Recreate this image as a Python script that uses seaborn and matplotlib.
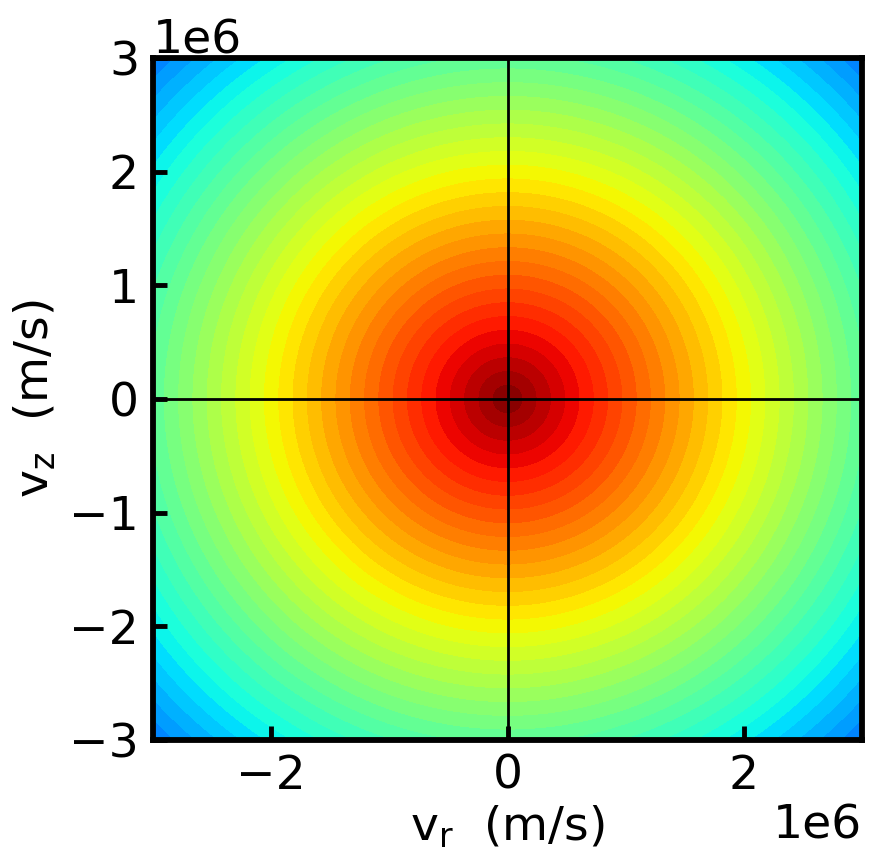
import numpy as np
import matplotlib
matplotlib.use("Agg")
import matplotlib.pyplot as plt
import seaborn as sns

# Data: velocity grid limits (m/s) and distribution parameters
v_limits = [-3e6, 3e6]
n_grid = 401
v_scale = 1.0e6          # e-folding speed of the (log) distribution
level_step = 0.121       # contour spacing in units of log f
log_f_min = -5.62        # colour-scale lower bound
x_ticks = [-2e6, 0, 2e6]
y_ticks = [-3e6, -2e6, -1e6, 0, 1e6, 2e6, 3e6]

vr = np.linspace(v_limits[0], v_limits[1], n_grid)
vz = np.linspace(v_limits[0], v_limits[1], n_grid)
VR, VZ = np.meshgrid(vr, vz)
log_f = -np.sqrt(VR**2 + VZ**2) / v_scale

sns.set_theme(style="ticks")
plt.rcParams['font.family'] = ['DejaVu Sans']
plt.rcParams['mathtext.default'] = 'regular'
plt.rcParams['text.color'] = 'black'
plt.rcParams['axes.labelcolor'] = 'black'
plt.rcParams['xtick.color'] = 'black'
plt.rcParams['ytick.color'] = 'black'

fig = plt.figure(figsize=(8.71, 8.52), dpi=100)
ax = fig.add_axes([153/871, 1-740/852, (862-153)/871, (740-58)/852])

levels = np.sort(-np.arange(0, 4.5, level_step))
levels = np.append(levels, 0.05)
ax.contourf(VR, VZ, log_f, levels=levels, cmap='jet', vmin=log_f_min, vmax=0)

ax.axhline(0, color='black', lw=2)
ax.axvline(0, color='black', lw=2)

ax.set_xlim(v_limits)
ax.set_ylim(v_limits)
ax.set_xticks(x_ticks)
ax.set_yticks(y_ticks)
ax.ticklabel_format(style='sci', axis='both', scilimits=(0, 0))
ax.set_axisbelow(False)

for s in ax.spines.values():
    s.set_linewidth(4.2)
    s.set_color('black')
ax.tick_params(direction='in', length=10, width=3.5, labelsize=34, pad=10,
               colors='black', labelcolor='black', top=False, right=False)
ax.xaxis.get_offset_text().set_fontsize(34)
ax.yaxis.get_offset_text().set_fontsize(34)
ax.xaxis.get_offset_text().set_color('black')
ax.yaxis.get_offset_text().set_color('black')

ax.set_xlabel(r'$v_r$  (m/s)', fontsize=34, labelpad=4, color='black')
ax.set_ylabel(r'$v_z$  (m/s)', fontsize=34, labelpad=8, color='black')

fig.savefig('out.png', dpi=100)
